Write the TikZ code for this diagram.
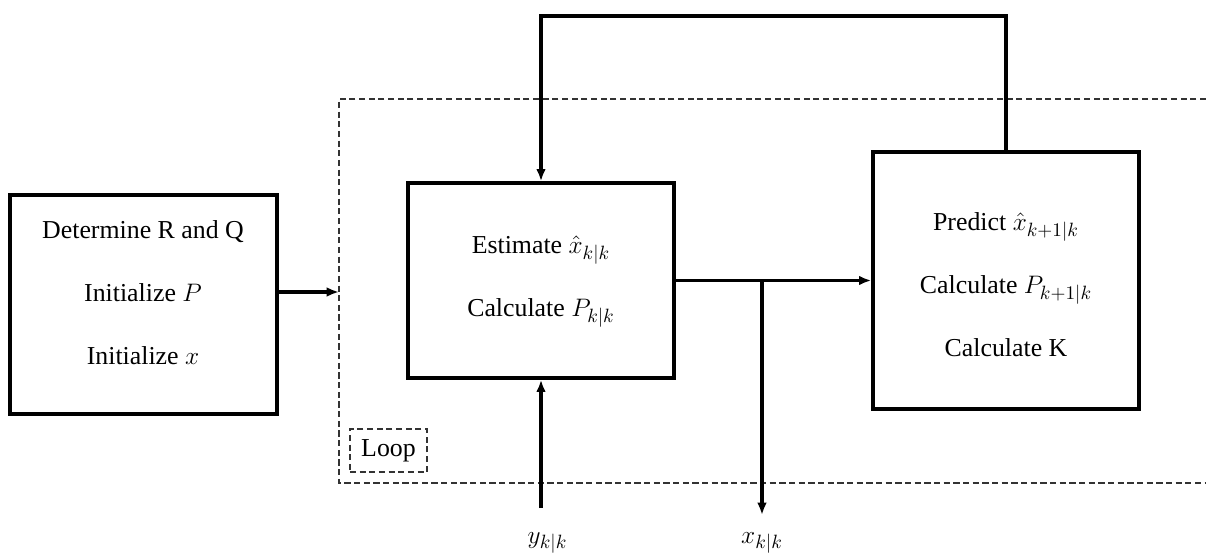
\documentclass[tikz,border=0pt]{standalone}
\usepackage{fontspec}
\setmainfont{Liberation Serif}
\usepackage{amsmath}
\usetikzlibrary{arrows.meta}
\DeclareMathSizes{14.7}{14.7}{11}{8}
\newcommand{\kk}{k|k}

\begin{document}
\begin{tikzpicture}[>={Latex[length=7pt,width=5.5pt]},
    line width=1.9pt,
    block/.style={draw,line width=1.9pt,inner sep=0pt},
    txt/.style={align=center,font=\fontsize{14.7}{35.8}\selectfont},
    loopline/.style={draw,black!80,line width=0.6pt,dash pattern=on 3.5pt off 2pt}]
      \useasboundingbox (0,0) rectangle (24.12,11.1);

      % loop region, open to the right
      \draw[loopline] (24.12,9.12) -- (6.78,9.12) -- (6.78,1.44) -- (24.12,1.44);
      \node[loopline,text=black,minimum width=1.54cm,minimum height=0.86cm,font=\fontsize{14.7}{18}\selectfont] (loop) at (7.77,2.09) {Loop};

      \node[block,minimum width=5.34cm,minimum height=4.38cm] (init)    at (2.87,5.01)  {};
      \node[block,minimum width=5.32cm,minimum height=3.9cm]  (update)  at (10.82,5.49) {};
      \node[block,minimum width=5.32cm,minimum height=5.14cm] (predict) at (20.12,5.49) {};

      \node[txt] (init-txt)    at (2.86,5.24)  {Determine R and Q\\Initialize $P$\\Initialize $x$};
      \node[txt] (update-txt)  at (10.82,5.47) {Estimate $\hat{x}_{\kk}$\\Calculate $P_{\kk}$};
      \node[txt] (predict-txt) at (20.12,5.41) {Predict $\hat{x}_{k+1|k}$\\Calculate $P_{k+1|k}$\\Calculate K};

      \coordinate (loop-in) at (6.78,5.26);
      \coordinate (top-r)   at (20.12,10.78);
      \coordinate (top-l)   at (10.82,10.78);
      \coordinate (branch)  at (15.24,5.49);
      \coordinate (y-end)   at (10.82,0.94);
      \coordinate (x-end)   at (15.24,0.8);

      \node[font=\fontsize{14.7}{18}\selectfont] (y-lbl) at (10.95,0.24) {$y_{\kk}$};
      \node[font=\fontsize{14.7}{18}\selectfont] (x-lbl) at (15.24,0.24) {$x_{\kk}$};

      \draw[->] (init.east |- loop-in) -- (loop-in);
      \draw[->] (update) -- (predict);
      \draw[->] (predict.north) -- (top-r) -- (top-l) -- (update.north);
      \draw[->] (y-end) -- (update.south);
      \draw[->] (branch) -- (x-end);
    \end{tikzpicture}
\end{document}
